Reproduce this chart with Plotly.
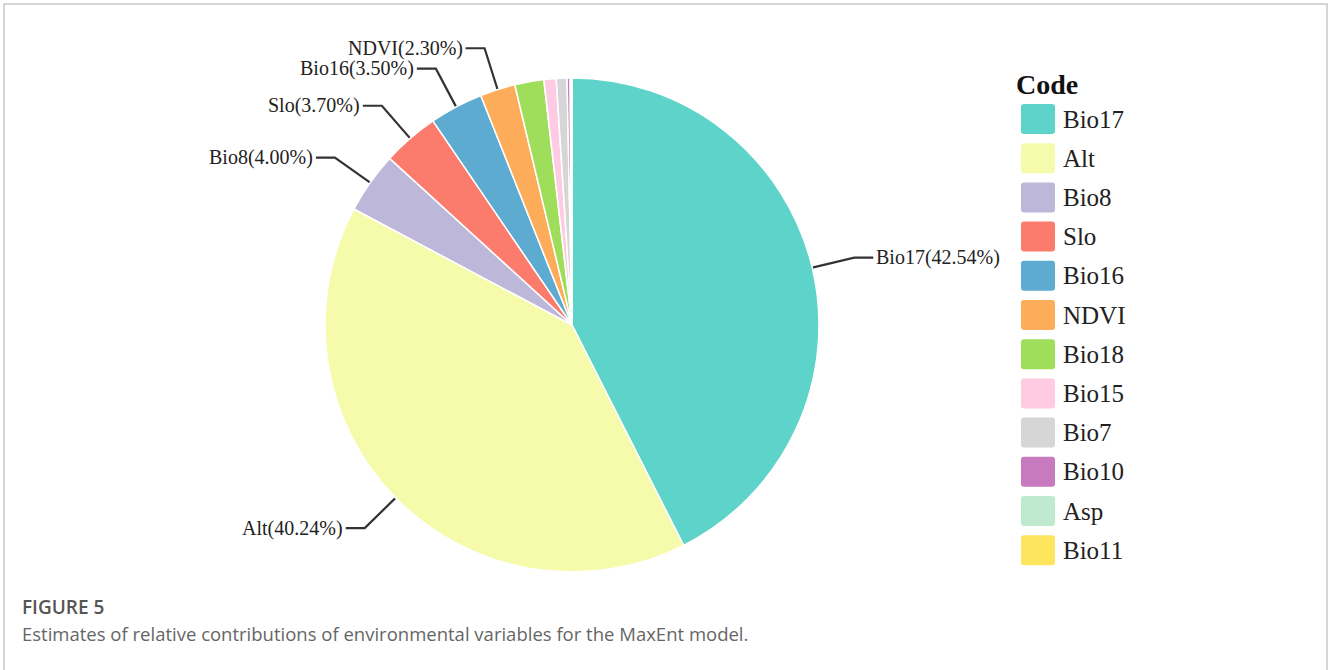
import math
import plotly.graph_objects as go

# Relative contribution (%) of each environmental variable to the MaxEnt model
codes = ["Bio17", "Alt", "Bio8", "Slo", "Bio16", "NDVI",
         "Bio18", "Bio15", "Bio7", "Bio10", "Asp", "Bio11"]
contrib = [42.54, 40.24, 4.00, 3.70, 3.50, 2.30,
           1.90, 0.80, 0.70, 0.20, 0.10, 0.02]
colors = ["#5dd3c9", "#f6fbab", "#bdb8da", "#fb7b6c", "#5eabd2", "#fdad5a",
          "#9ede5a", "#fecbe3", "#d6d6d6", "#c77bbe", "#bfead0", "#fde55e"]
# Variables that get an outside label with a leader line
labelled = ["Bio17", "Alt", "Bio8", "Slo", "Bio16", "NDVI"]

W, H = 1328, 670
CX, CY, R = 572, 325, 247          # pie centre and radius in pixels
SERIF = "Liberation Serif, Times New Roman, serif"

fig = go.Figure()

fig.add_trace(go.Pie(
    labels=codes, values=contrib, sort=False, direction="clockwise",
    rotation=0, textinfo="none", hoverinfo="label+percent",
    marker=dict(colors=colors, line=dict(color="white", width=1.5)),
    domain=dict(x=[(CX - R) / W, (CX + R) / W],
                y=[(H - CY - R) / H, (H - CY + R) / H]),
    showlegend=False,
))

# Pixel-space helper axes for leader lines, legend and frame
fig.update_layout(
    xaxis=dict(range=[0, W], visible=False, fixedrange=True),
    yaxis=dict(range=[H, 0], visible=False, fixedrange=True),
)

shapes = []
annotations = []

# Outer frame
shapes.append(dict(type="rect", xref="x", yref="y", x0=4, y0=4, x1=1327, y1=H + 5,
                   line=dict(color="#c8c8c8", width=1.5), layer="below"))

# Leader lines and labels
total = sum(contrib)
cum = 0.0
for code, val in zip(codes, contrib):
    mid = (cum + val / 2) / total * 2 * math.pi
    cum += val
    if code not in labelled:
        continue
    sx, sy = math.sin(mid), -math.cos(mid)
    p0 = (CX + R * sx, CY + R * sy)
    p1 = (CX + R * 1.175 * sx, CY + R * 1.175 * sy)
    side = 1 if sx > 0 else -1
    p2 = (p1[0] + side * 19, p1[1])
    fig.add_trace(go.Scatter(x=[p0[0], p1[0], p2[0]], y=[p0[1], p1[1], p2[1]],
                             mode="lines", line=dict(color="#333333", width=2.2),
                             hoverinfo="skip", showlegend=False))
    annotations.append(dict(x=p2[0] + side * 1, y=p2[1], xref="x", yref="y",
                            text=f"{code}({val:.2f}%)", showarrow=False,
                            xanchor="left" if side > 0 else "right", yanchor="middle",
                            font=dict(family=SERIF, size=20, color="#222222")))

# Legend
annotations.append(dict(x=1014, y=84, xref="x", yref="y", text="<b>Code</b>",
                        showarrow=False, xanchor="left", yanchor="middle",
                        font=dict(family=SERIF, size=28, color="#111111")))
for i, (code, col) in enumerate(zip(codes, colors)):
    yc = 119 + i * 39.2
    x0, x1, y0, y1, r = 1021, 1055, yc - 15, yc + 15, 3
    path = (f"M {x0 + r},{y0} L {x1 - r},{y0} Q {x1},{y0} {x1},{y0 + r} "
            f"L {x1},{y1 - r} Q {x1},{y1} {x1 - r},{y1} L {x0 + r},{y1} "
            f"Q {x0},{y1} {x0},{y1 - r} L {x0},{y0 + r} Q {x0},{y0} {x0 + r},{y0} Z")
    shapes.append(dict(type="path", xref="x", yref="y", path=path,
                       fillcolor=col, line=dict(width=0)))
    annotations.append(dict(x=1061, y=yc, xref="x", yref="y", text=code,
                            showarrow=False, xanchor="left", yanchor="middle",
                            font=dict(family=SERIF, size=25, color="#222222")))

# Caption
annotations.append(dict(x=20, y=607, xref="x", yref="y", text="FIGURE 5",
                        showarrow=False, xanchor="left", yanchor="middle",
                        font=dict(family="Open Sans, sans-serif", size=19,
                                  color="#555555", weight=600)))
annotations.append(dict(x=20, y=633, xref="x", yref="y",
                        text="Estimates of relative contributions of environmental variables for the MaxEnt model.",
                        showarrow=False, xanchor="left", yanchor="middle",
                        font=dict(family="Open Sans, sans-serif", size=18.5, color="#666666")))

fig.update_layout(
    width=W, height=H, margin=dict(l=0, r=0, t=0, b=0),
    paper_bgcolor="white", plot_bgcolor="white",
    shapes=shapes, annotations=annotations, showlegend=False,
)

fig.write_html("out.html")
